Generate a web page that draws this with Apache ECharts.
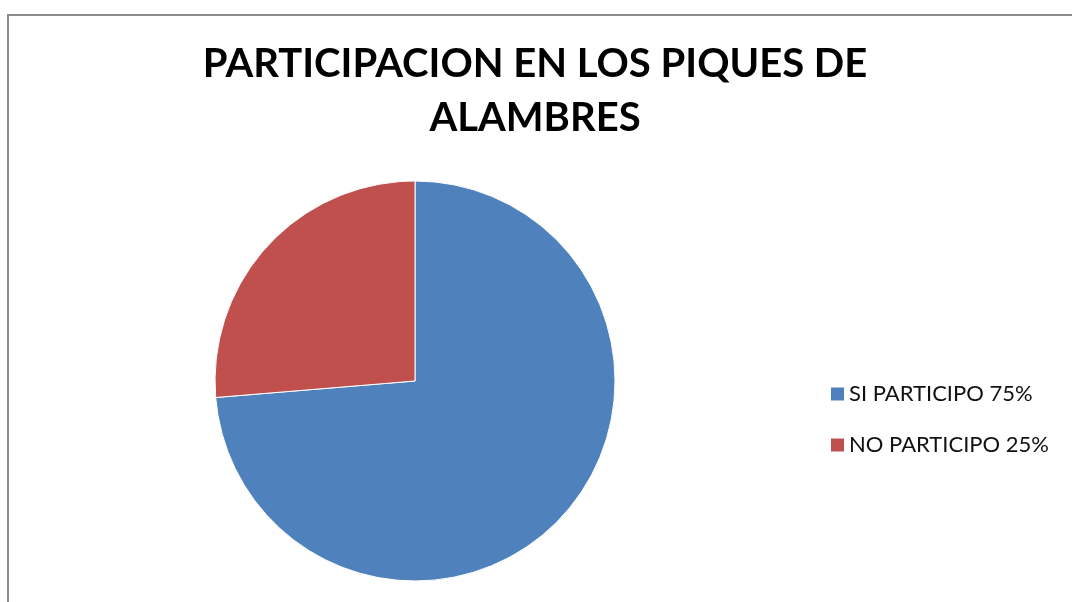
<!DOCTYPE html>
<html>
<head>
<meta charset="utf-8">
<script src="https://cdn.jsdelivr.net/npm/echarts@6/dist/echarts.min.js"></script>
<style>
  html, body { margin: 0; padding: 0; background: #fff; }
  #chart1 { width: 1072px; height: 602px; }
</style>
</head>
<body>
<div id="chart1"></div>
<script>
// datos del grafico
var categorias = ['SI PARTICIPO 75%', 'NO PARTICIPO 25%'];
var valores = [28, 10];
var colores = ['#4F81BD', '#C0504D'];

function chart() {
  var mychart = echarts.init(document.getElementById('chart1'));

  var datos = categorias.map(function (c, i) {
    return { name: c, value: valores[i], itemStyle: { color: colores[i] } };
  });

  var option = {
    animation: false,
    title: {
      text: 'PARTICIPACION EN LOS PIQUES DE\nALAMBRES',
      left: 530,
      top: 32,
      textAlign: 'center',
      textStyle: {
        fontFamily: 'Lato',
        fontWeight: 'bold',
        fontSize: 40,
        lineHeight: 54,
        color: '#000'
      }
    },
    graphic: [{
      type: 'rect',
      shape: { x: 8, y: 15, width: 1200, height: 800 },
      style: { fill: 'none', stroke: '#8c8c8c', lineWidth: 2 }
    }],
    legend: {
      orient: 'vertical',
      left: 829,
      top: 383,
      padding: 0,
      icon: 'rect',
      itemWidth: 15,
      itemHeight: 15,
      itemGap: 29,
      textStyle: {
        fontFamily: 'Lato',
        fontSize: 22,
        color: '#111',
        padding: [0, 0, 0, -1]
      },
      data: categorias
    },
    series: [{
      type: 'pie',
      center: [415, 381],
      radius: 200,
      startAngle: 90,
      clockwise: true,
      label: { show: false },
      labelLine: { show: false },
      itemStyle: { borderColor: '#fff', borderWidth: 1 },
      emphasis: { disabled: true },
      data: datos
    }]
  };

  mychart.setOption(option);
}
chart();
</script>
</body>
</html>
